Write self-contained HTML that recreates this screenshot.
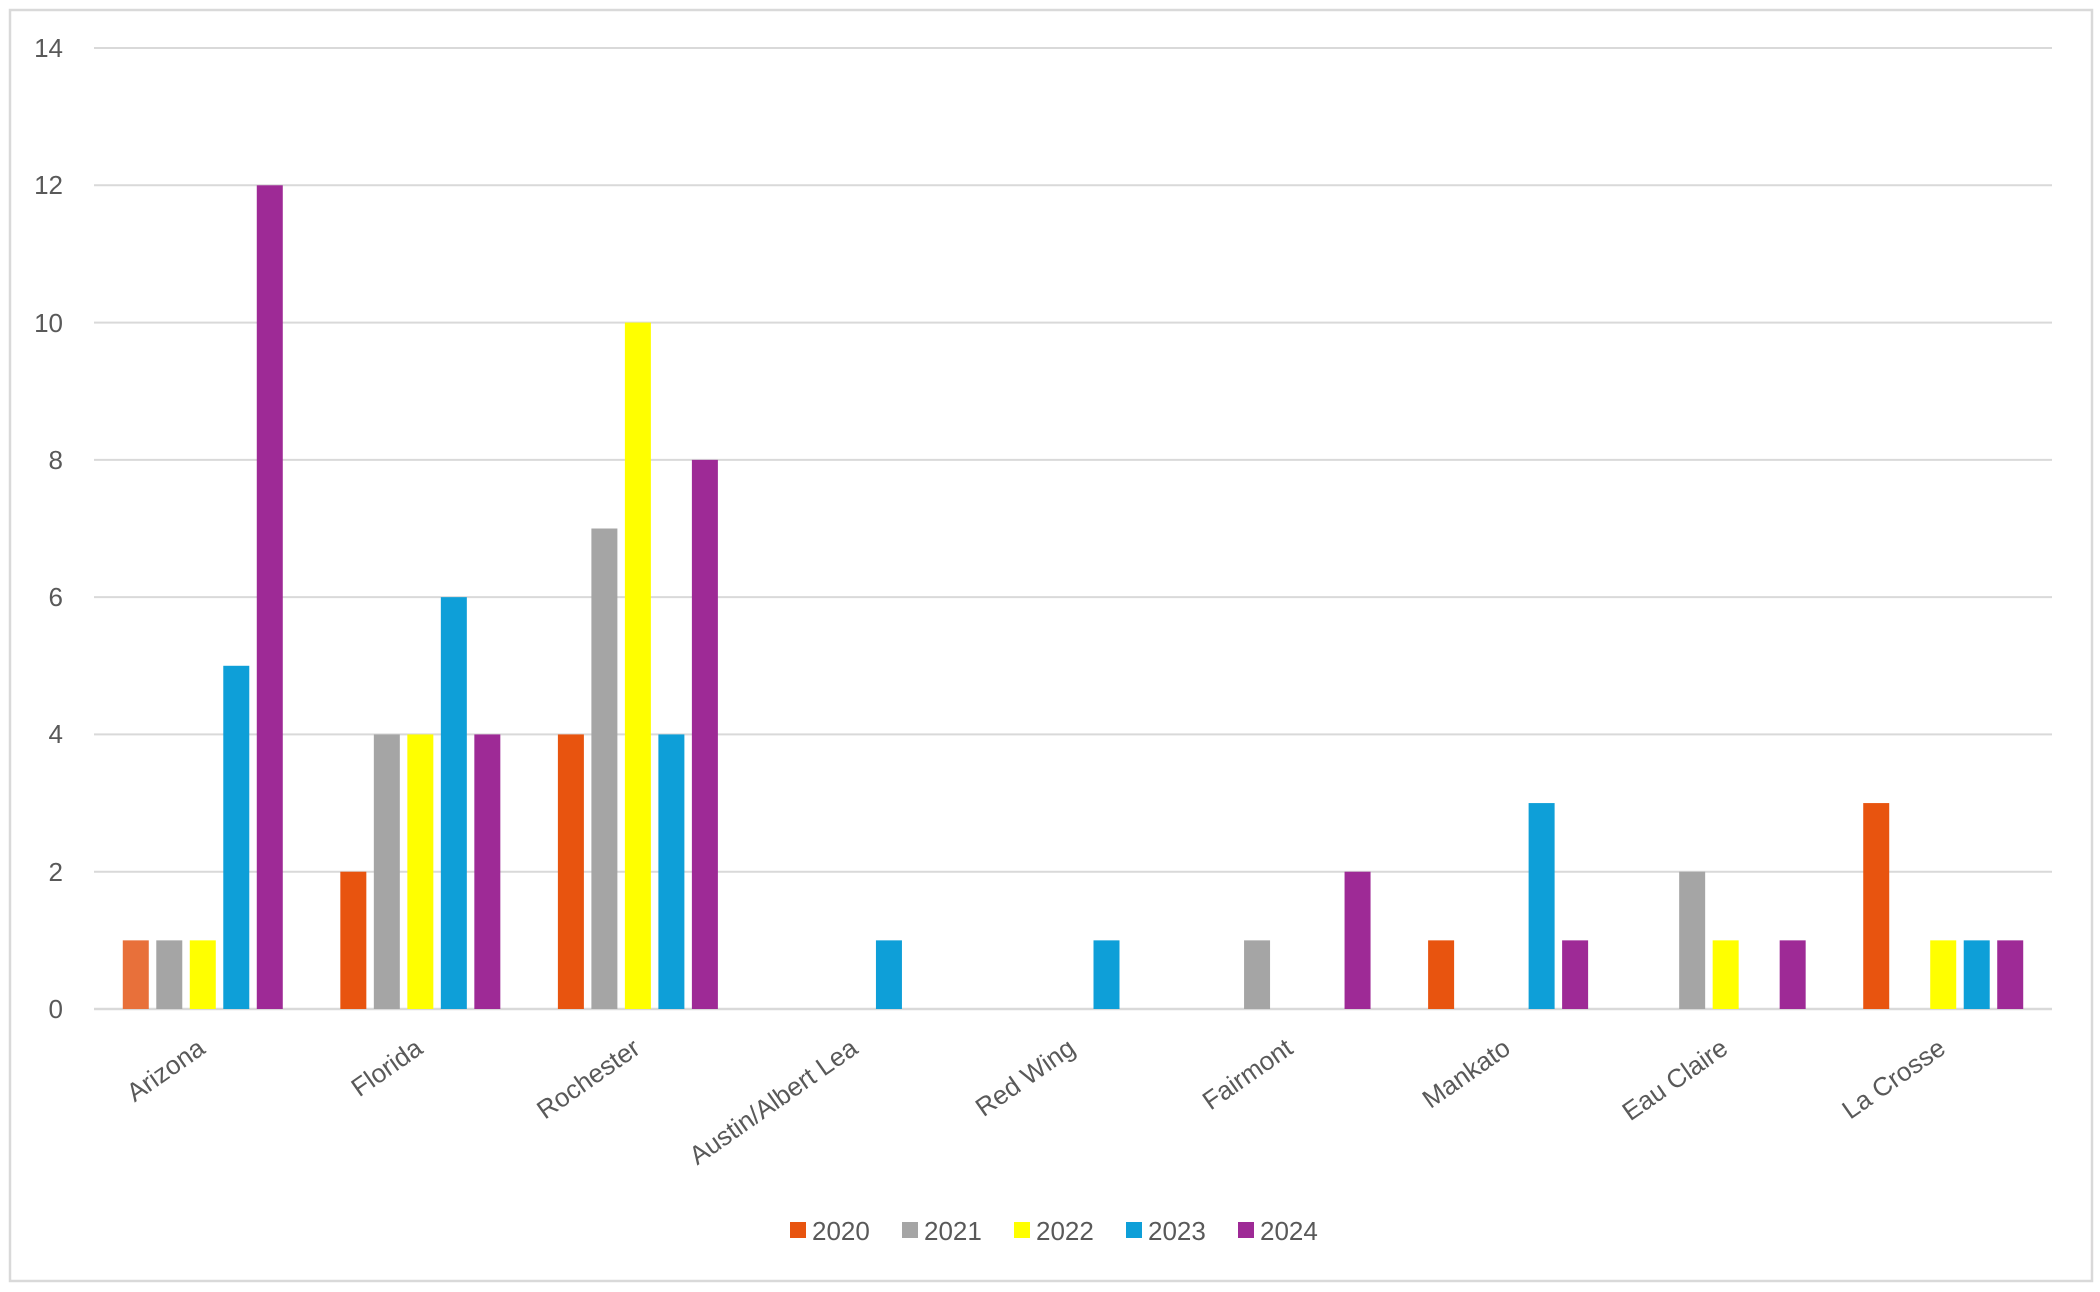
<!DOCTYPE html>
<html><head><meta charset="utf-8"><style>html,body{margin:0;padding:0;background:#fff}svg{display:block}</style></head>
<body>
<svg width="2100" height="1292" xmlns="http://www.w3.org/2000/svg" font-family="Liberation Sans, Arial, sans-serif">
<rect x="0" y="0" width="2100" height="1292" fill="#fff"/>
<rect x="10" y="10" width="2082" height="1271" fill="none" stroke="#d9d9d9" stroke-width="2.5"/>
<g stroke="#d9d9d9" stroke-width="2">
<line x1="94" x2="2052" y1="48" y2="48"/><line x1="94" x2="2052" y1="185.3" y2="185.3"/>
<line x1="94" x2="2052" y1="322.6" y2="322.6"/><line x1="94" x2="2052" y1="459.9" y2="459.9"/>
<line x1="94" x2="2052" y1="597.1" y2="597.1"/><line x1="94" x2="2052" y1="734.4" y2="734.4"/>
<line x1="94" x2="2052" y1="871.7" y2="871.7"/><line x1="94" x2="2052" y1="1009" y2="1009" stroke-width="2.5"/>
</g>
<g fill="#595959" font-size="26" text-anchor="end">
<text x="63" y="57">14</text><text x="63" y="194">12</text><text x="63" y="332">10</text>
<text x="63" y="469">8</text><text x="63" y="606">6</text><text x="63" y="743">4</text>
<text x="63" y="881">2</text><text x="63" y="1018">0</text>
</g>
<g id="bars"></g>
<g id="labels" fill="#595959" font-size="26" text-anchor="end"></g>
<g font-size="26" fill="#595959">
<rect x="790" y="1222" width="16" height="16" fill="#E8540F"/><text x="812" y="1240">2020</text>
<rect x="902" y="1222" width="16" height="16" fill="#A5A5A5"/><text x="924" y="1240">2021</text>
<rect x="1014" y="1222" width="16" height="16" fill="#FFFF00"/><text x="1036" y="1240">2022</text>
<rect x="1126" y="1222" width="16" height="16" fill="#0E9FD8"/><text x="1148" y="1240">2023</text>
<rect x="1238" y="1222" width="16" height="16" fill="#9E2A96"/><text x="1260" y="1240">2024</text>
</g>
<script>
var data=[["Arizona",[1,1,1,5,12]],["Florida",[2,4,4,6,4]],["Rochester",[4,7,10,4,8]],["Austin/Albert Lea",[0,0,0,1,0]],["Red Wing",[0,0,0,1,0]],["Fairmont",[0,1,0,0,2]],["Mankato",[1,0,0,3,1]],["Eau Claire",[0,2,1,0,1]],["La Crosse",[3,0,1,1,1]]];
var cols=["#E8540F","#A5A5A5","#FFFF00","#0E9FD8","#9E2A96"];
var ns="http://www.w3.org/2000/svg",b=document.getElementById("bars"),l=document.getElementById("labels");
var gw=(2052-94)/9,u=(1009-48)/14;
data.forEach(function(d,i){var c=94+gw*(i+0.5);
d[1].forEach(function(v,j){if(!v)return;var r=document.createElementNS(ns,"rect");
var x=c+(j-2)*33.5-13;r.setAttribute("x",x);r.setAttribute("width",26);r.setAttribute("y",1009-v*u);r.setAttribute("height",v*u);
r.setAttribute("fill",(i==0&&j==0)?"#E8703A":cols[j]);b.appendChild(r);});
var t=document.createElementNS(ns,"text");t.setAttribute("transform","translate("+(c+4)+",1052) rotate(-35)");t.textContent=d[0];l.appendChild(t);});
</script>
</svg>
</body></html>
